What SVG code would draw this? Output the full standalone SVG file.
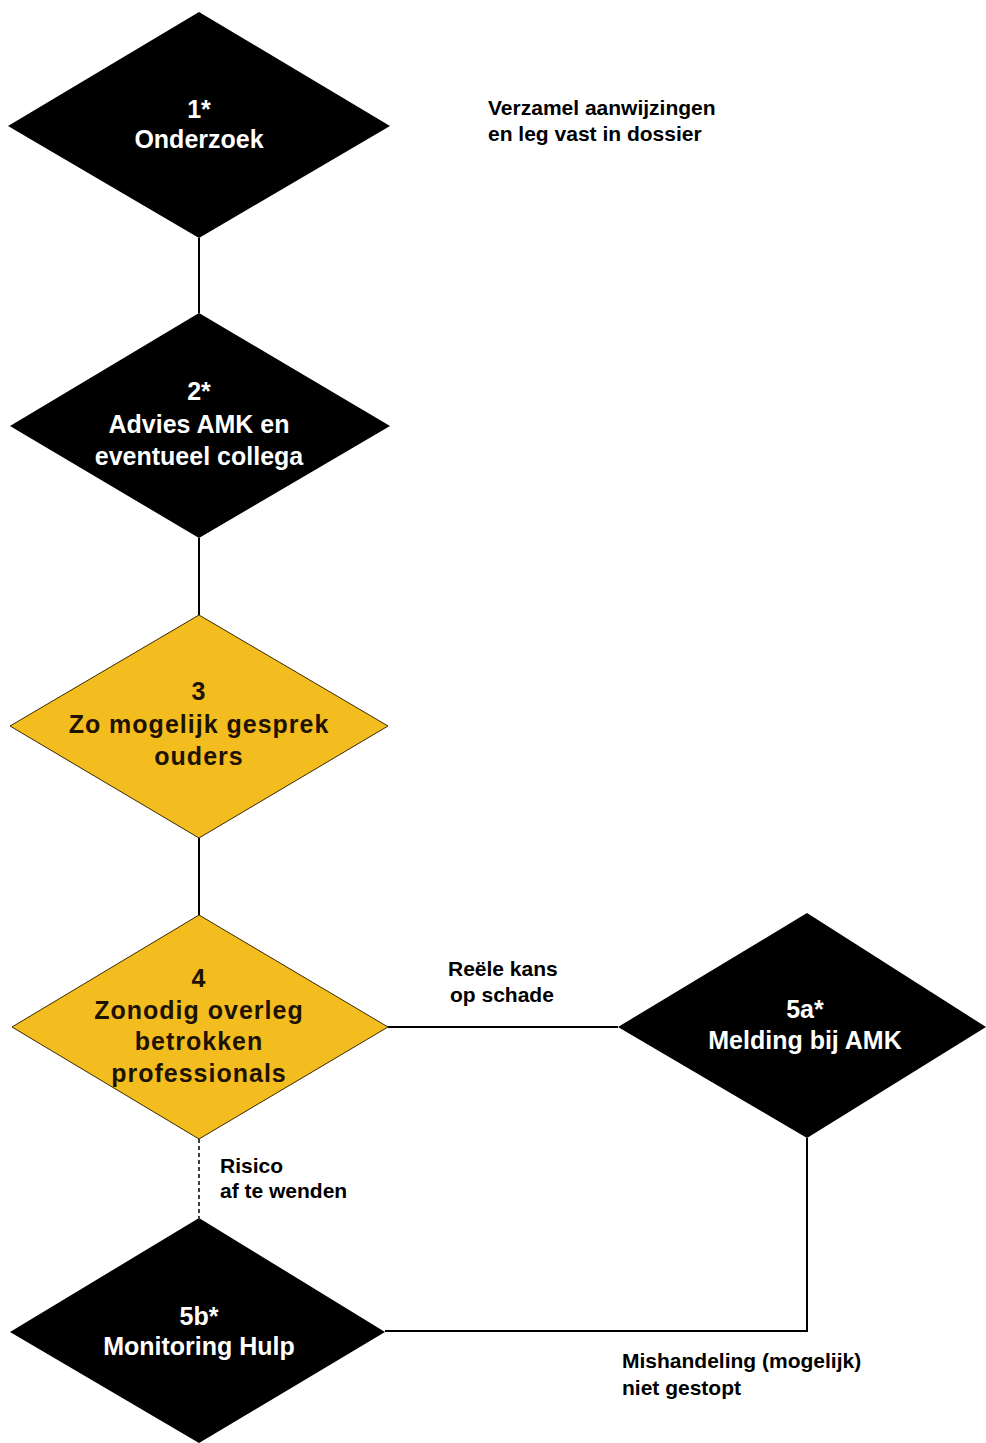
<svg xmlns="http://www.w3.org/2000/svg" width="986" height="1443" viewBox="0 0 986 1443">
<style>
.dk{fill:#000000}
.ye{fill:#F4BD1F;stroke:#3a2a00;stroke-width:1}
.tw{font-family:"Liberation Sans",Arial,sans-serif;font-weight:bold;font-size:25px;fill:#ffffff;text-anchor:middle}
.ty{font-family:"Liberation Sans",Arial,sans-serif;font-weight:bold;font-size:25px;fill:#1e1200;text-anchor:middle;letter-spacing:1px}
.lb{font-family:"Liberation Sans",Arial,sans-serif;font-weight:bold;font-size:21px;fill:#000000}
.ln{stroke:#000000;stroke-width:2;fill:none}
.ds{stroke:#000000;stroke-width:1.5;fill:none;stroke-dasharray:4 3}
</style>
<rect width="986" height="1443" fill="#ffffff"/>
<g id="connectors">
<line class="ln" x1="199" y1="238" x2="199" y2="313"/>
<line class="ln" x1="199" y1="538" x2="199" y2="615"/>
<line class="ln" x1="199" y1="838" x2="199" y2="915"/>
<line class="ds" x1="199" y1="1139" x2="199" y2="1218"/>
<line class="ln" x1="388" y1="1027" x2="618" y2="1027"/>
<polyline class="ln" points="807,1138 807,1331 385,1331"/>
</g>
<g id="n1">
<polygon class="dk" points="199,12 390,126 199,238 8,126"/>
<text class="tw" x="199" y="118">1*</text>
<text class="tw" x="199" y="148">Onderzoek</text>
</g>
<g id="n2">
<polygon class="dk" points="199,313 390,426 199,538 10,426"/>
<text class="tw" x="199" y="400">2*</text>
<text class="tw" x="199" y="433">Advies AMK en</text>
<text class="tw" x="199" y="465">eventueel collega</text>
</g>
<g id="n3">
<polygon class="ye" points="199,615 388,726 199,838 10,726"/>
<text class="ty" x="199" y="700">3</text>
<text class="ty" x="199" y="733">Zo mogelijk gesprek</text>
<text class="ty" x="199" y="765">ouders</text>
</g>
<g id="n4">
<polygon class="ye" points="199,915 388,1027 199,1139 12,1027"/>
<text class="ty" x="199" y="987">4</text>
<text class="ty" x="199" y="1019">Zonodig overleg</text>
<text class="ty" x="199" y="1050">betrokken</text>
<text class="ty" x="199" y="1082">professionals</text>
</g>
<g id="n5a">
<polygon class="dk" points="807,913 986,1027 807,1138 618,1027"/>
<text class="tw" x="805" y="1018">5a*</text>
<text class="tw" x="805" y="1049">Melding bij AMK</text>
</g>
<g id="n5b">
<polygon class="dk" points="199,1218 385,1332 199,1443 10,1332"/>
<text class="tw" x="199" y="1325">5b*</text>
<text class="tw" x="199" y="1355">Monitoring Hulp</text>
</g>
<g id="labels">
<text class="lb" x="488" y="115">Verzamel aanwijzingen</text>
<text class="lb" x="488" y="141">en leg vast in dossier</text>
<text class="lb" x="448" y="976">Reële kans</text>
<text class="lb" x="450" y="1002">op schade</text>
<text class="lb" x="220" y="1173">Risico</text>
<text class="lb" x="220" y="1198">af te wenden</text>
<text class="lb" x="622" y="1368">Mishandeling (mogelijk)</text>
<text class="lb" x="622" y="1395">niet gestopt</text>
</g>
</svg>
